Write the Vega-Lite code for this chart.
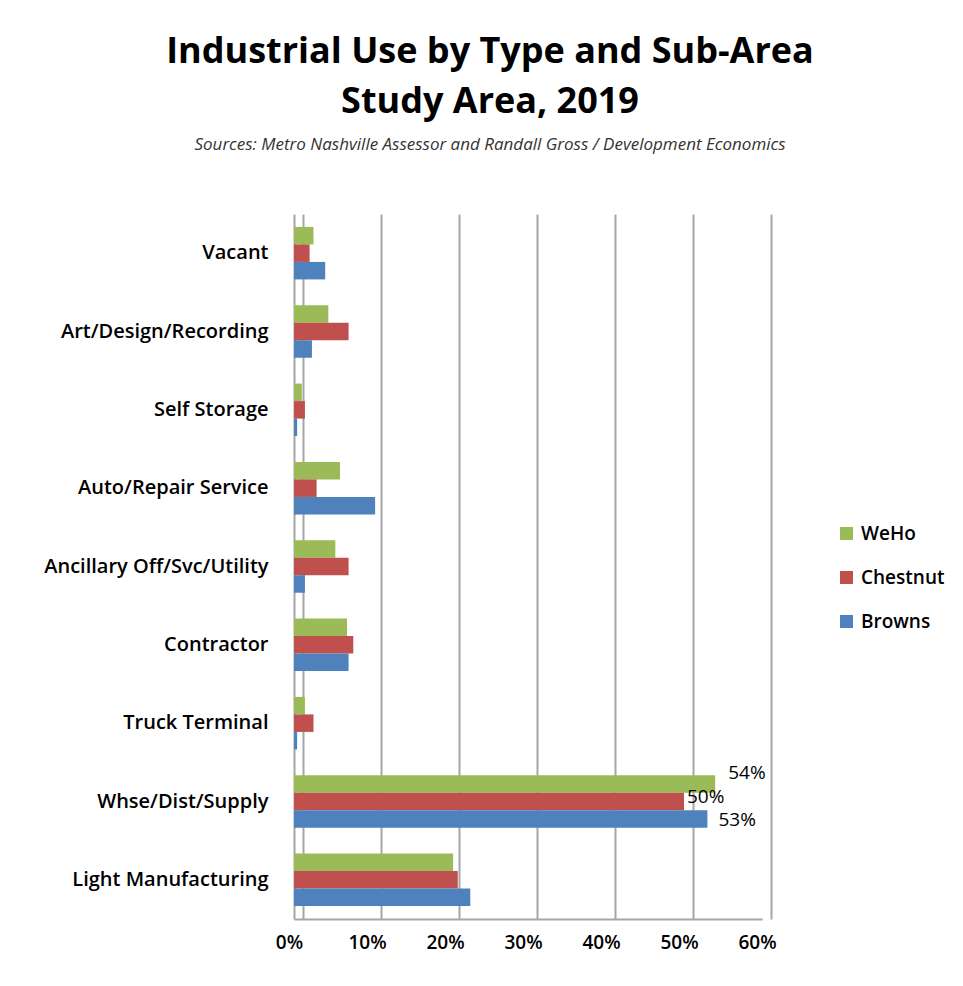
{
  "$schema": "https://vega.github.io/schema/vega-lite/v6.json",
  "autosize": {"type": "none"},
  "width": 468,
  "height": 705,
  "padding": {"left": 294, "top": 214, "right": 201, "bottom": 67},
  "background": "white",
  "title": {
    "text": ["Industrial Use by Type and Sub-Area", "Study Area, 2019"],
    "subtitle": "Sources: Metro  Nashville Assessor and Randall Gross  / Development  Economics",
    "anchor": "middle",
    "dx": -38,
    "offset": 60,
    "font": "Open Sans",
    "fontSize": 36,
    "fontWeight": "bold",
    "lineHeight": 50,
    "color": "#000000",
    "subtitleFont": "Open Sans",
    "subtitleFontSize": 17,
    "subtitleFontStyle": "italic",
    "subtitleColor": "#333333",
    "subtitlePadding": 16
  },
  "data": {
    "values": [
      {"category": "Vacant", "series": "WeHo", "value": 0.025},
      {"category": "Vacant", "series": "Chestnut", "value": 0.02},
      {"category": "Vacant", "series": "Browns", "value": 0.04},
      {"category": "Art/Design/Recording", "series": "WeHo", "value": 0.044},
      {"category": "Art/Design/Recording", "series": "Chestnut", "value": 0.07},
      {"category": "Art/Design/Recording", "series": "Browns", "value": 0.023},
      {"category": "Self Storage", "series": "WeHo", "value": 0.01},
      {"category": "Self Storage", "series": "Chestnut", "value": 0.014},
      {"category": "Self Storage", "series": "Browns", "value": 0.004},
      {"category": "Auto/Repair Service", "series": "WeHo", "value": 0.059},
      {"category": "Auto/Repair Service", "series": "Chestnut", "value": 0.029},
      {"category": "Auto/Repair Service", "series": "Browns", "value": 0.104},
      {"category": "Ancillary Off/Svc/Utility", "series": "WeHo", "value": 0.053},
      {"category": "Ancillary Off/Svc/Utility", "series": "Chestnut", "value": 0.07},
      {"category": "Ancillary Off/Svc/Utility", "series": "Browns", "value": 0.014},
      {"category": "Contractor", "series": "WeHo", "value": 0.068},
      {"category": "Contractor", "series": "Chestnut", "value": 0.076},
      {"category": "Contractor", "series": "Browns", "value": 0.07},
      {"category": "Truck Terminal", "series": "WeHo", "value": 0.014},
      {"category": "Truck Terminal", "series": "Chestnut", "value": 0.025},
      {"category": "Truck Terminal", "series": "Browns", "value": 0.004},
      {"category": "Whse/Dist/Supply", "series": "WeHo", "value": 0.54},
      {"category": "Whse/Dist/Supply", "series": "Chestnut", "value": 0.5},
      {"category": "Whse/Dist/Supply", "series": "Browns", "value": 0.53},
      {"category": "Light Manufacturing", "series": "WeHo", "value": 0.204},
      {"category": "Light Manufacturing", "series": "Chestnut", "value": 0.21},
      {"category": "Light Manufacturing", "series": "Browns", "value": 0.226}
    ]
  },
  "encoding": {
    "y": {
      "field": "category",
      "type": "nominal",
      "sort": ["Vacant", "Art/Design/Recording", "Self Storage", "Auto/Repair Service", "Ancillary Off/Svc/Utility", "Contractor", "Truck Terminal", "Whse/Dist/Supply", "Light Manufacturing"],
      "scale": {"paddingInner": 0.33, "paddingOuter": 0.165},
      "axis": {
        "title": null,
        "ticks": false,
        "domainColor": "#a6a6a6",
        "domainWidth": 2,
        "labelFont": "Open Sans",
        "labelFontSize": 20,
        "labelFontWeight": 600,
        "labelColor": "#000000",
        "labelPadding": 26,
        "labelLimit": 300
      }
    },
    "x": {
      "field": "value",
      "type": "quantitative",
      "scale": {"domain": [0, 0.6], "nice": false},
      "axis": {
        "title": null,
        "values": [0, 0.1, 0.2, 0.3, 0.4, 0.5, 0.6],
        "format": ".0%",
        "grid": true,
        "gridColor": "#a6a6a6",
        "gridWidth": 2,
        "ticks": false,
        "tickOffset": 9,
        "labelOffset": -14,
        "labelFlush": false,
        "domainColor": "#a6a6a6",
        "domainWidth": 2,
        "labelFont": "Open Sans",
        "labelFontSize": 19,
        "labelFontWeight": 600,
        "labelColor": "#000000",
        "labelPadding": 14
      }
    },
    "yOffset": {
      "field": "series",
      "type": "nominal",
      "sort": ["WeHo", "Chestnut", "Browns"],
      "scale": {"paddingInner": 0, "paddingOuter": 0}
    }
  },
  "layer": [
    {
      "mark": {"type": "bar", "stroke": null},
      "encoding": {
        "color": {
          "field": "series",
          "type": "nominal",
          "scale": {"domain": ["WeHo", "Chestnut", "Browns"], "range": ["#9BBB59", "#C0504D", "#4F81BD"]},
          "legend": {
            "title": null,
            "orient": "none",
            "legendX": 543,
            "legendY": 310,
            "symbolType": "square",
            "symbolSize": 169,
            "symbolStrokeWidth": 0,
            "labelFont": "Open Sans",
            "labelFontSize": 19,
            "labelFontWeight": 600,
            "labelColor": "#000000",
            "rowPadding": 24,
            "labelOffset": 5
          }
        }
      }
    },
    {
      "transform": [{"filter": "datum.category === 'Whse/Dist/Supply' && datum.series === 'WeHo'"}],
      "mark": {"type": "text", "align": "left", "dx": 13, "dy": -11, "font": "Open Sans", "fontSize": 19, "color": "#000000"},
      "encoding": {"text": {"field": "value", "type": "quantitative", "format": ".0%"}}
    },
    {
      "transform": [{"filter": "datum.category === 'Whse/Dist/Supply' && datum.series === 'Chestnut'"}],
      "mark": {"type": "text", "align": "left", "dx": 3, "dy": -5, "font": "Open Sans", "fontSize": 19, "color": "#000000"},
      "encoding": {"text": {"field": "value", "type": "quantitative", "format": ".0%"}}
    },
    {
      "transform": [{"filter": "datum.category === 'Whse/Dist/Supply' && datum.series === 'Browns'"}],
      "mark": {"type": "text", "align": "left", "dx": 11, "dy": 1, "font": "Open Sans", "fontSize": 19, "color": "#000000"},
      "encoding": {"text": {"field": "value", "type": "quantitative", "format": ".0%"}}
    }
  ],
  "config": {"view": {"stroke": null}}
}
